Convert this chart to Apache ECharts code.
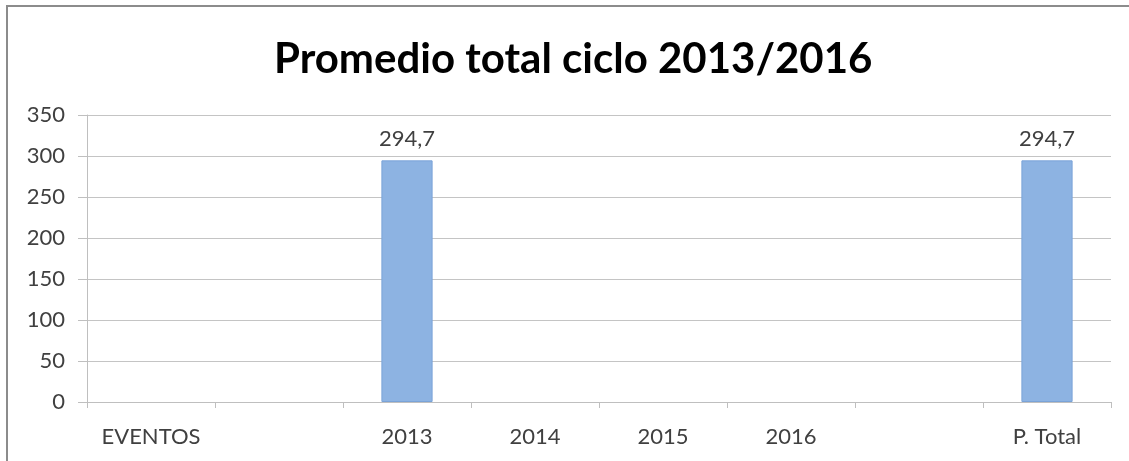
<!DOCTYPE html>
<html>
<head>
<meta charset="utf-8">
<script src="https://cdn.jsdelivr.net/npm/echarts@6/dist/echarts.min.js"></script>
<style>
html,body{margin:0;padding:0;background:#fff;}
#c{width:1129px;height:461px;}
</style>
</head>
<body>
<div id="c"></div>
<script>
const titleText = 'Promedio total ciclo 2013/2016';
const categories = ['EVENTOS', '', '2013', '2014', '2015', '2016', '', 'P. Total'];
const values = [null, null, 294.7, null, null, null, null, 294.7];
const yTicks = { min: 0, max: 350, interval: 50 };

const chart = echarts.init(document.getElementById('c'), null, { renderer: 'canvas' });
const FONT = 'Lato';
chart.setOption({
  backgroundColor: '#ffffff',
  animation: false,
  title: {
    text: titleText,
    left: 269,
    top: 33,
    textStyle: { fontFamily: FONT, fontSize: 42, fontWeight: 'bold', color: '#000000' }
  },
  graphic: [{
    type: 'rect',
    shape: { x: 7, y: 6, width: 1200, height: 600 },
    style: { fill: 'none', stroke: '#8c8c8c', lineWidth: 2 },
    silent: true
  }],
  grid: { left: 87, right: 18, top: 115, bottom: 59, containLabel: false },
  xAxis: {
    type: 'category',
    data: categories,
    boundaryGap: true,
    axisLine: { show: true, lineStyle: { color: '#bfbfbf', width: 1 } },
    axisTick: { show: true, length: 6, alignWithLabel: false, interval: 0, lineStyle: { color: '#bfbfbf' } },
    axisLabel: { interval: 0, margin: 24, fontFamily: FONT, fontSize: 22, color: '#404040' },
    splitLine: { show: false }
  },
  yAxis: {
    type: 'value',
    min: yTicks.min,
    max: yTicks.max,
    interval: yTicks.interval,
    axisLine: { show: true, lineStyle: { color: '#bfbfbf', width: 1 } },
    axisTick: { show: true, length: 9, lineStyle: { color: '#bfbfbf' } },
    axisLabel: { margin: 22, fontFamily: FONT, fontSize: 22, color: '#404040' },
    splitLine: { show: true, lineStyle: { color: '#c4c4c4', width: 1 } }
  },
  series: [{
    type: 'bar',
    data: values,
    barWidth: '40%',
    itemStyle: { color: '#8db3e2', borderColor: '#7aa3d8', borderWidth: 1 },
    label: {
      show: true,
      position: 'top',
      distance: 10,
      fontFamily: FONT,
      fontSize: 22,
      color: '#404040',
      formatter: p => p.value == null ? '' : String(p.value).replace('.', ',')
    }
  }]
});
</script>
</body>
</html>
